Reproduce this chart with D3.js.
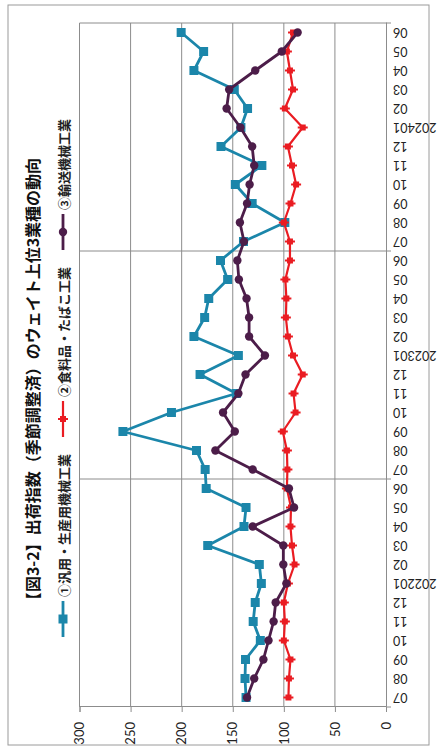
<!DOCTYPE html>
<html><head><meta charset="utf-8">
<script src="https://cdn.jsdelivr.net/npm/d3@7"></script>
<style>html,body{margin:0;padding:0;background:#fff;}svg{display:block;}</style>
</head><body>
<svg id="c" width="437" height="748"></svg>
<script>
const categories = ["07","08","09","10","11","12","202201","02","03","04","05","06",
  "07","08","09","10","11","12","202301","02","03","04","05","06",
  "07","08","09","10","11","12","202401","02","03","04","05","06"];
const seriesNames = ["①汎用・生産用機械工業","②食料品・たばこ工業","③輸送機械工業"];
const machinery = [137,138,137.5,123,130,128,122,124,174.5,139,137,176,
  177,185.5,257.5,210,146.5,182,144.5,188,177.5,173.5,155,162,
  139.5,99,131,147.5,121.5,161.5,142,135.5,148.5,188,178.5,200.5];
const food = [95.5,95,93.5,100,99,100,96,89.5,92,93.5,93,97,
  96.5,97,101,88.5,90.5,81.5,91,96,98,97.5,98.5,94,
  94,100,93.5,88,92,96,81.5,99,91,94,97,91];
const transport = [136,129,120,115,110,108,97.5,100.5,100.5,130.5,90,95,
  130.5,167,148,159.5,144.5,137.5,118.5,134,134,136.5,144,145.5,
  139,143,136,133.5,129,131,142.5,156,153.5,128,102,86.5];
const valueTicks = [0,50,100,150,200,250,300];
const titleText = "【図3-2】出荷指数（季節調整済）のウェイト上位3業種の動向";

const colors = ["#1b86aa","#ea1c22","#4c1d49"];

const svg = d3.select("#c");
// Chart is drawn in its own frame (748 wide x 437 high) and turned a quarter turn.
const g = svg.append("g").attr("transform","translate(0,748) rotate(-90)");

g.append("rect").attr("x",3).attr("y",8).attr("width",740).attr("height",421)
  .attr("fill","#fff").attr("stroke","#9a9a9a").attr("stroke-width",1);

const idx = d3.range(categories.length);
const x = d3.scaleBand().domain(idx).range([41,725]).padding(0);
const y = d3.scaleLinear().domain([0,300]).range([386,79.5]);
const cx = i => x(i) + x.bandwidth()/2;

// value gridlines
g.append("g").selectAll("line").data(valueTicks.filter(v=>v>0)).join("line")
  .attr("x1",41).attr("x2",725).attr("y1",d=>y(d)).attr("y2",d=>y(d))
  .attr("stroke","#8c8c8c").attr("stroke-width",1);
// category gridlines every 12 months
const yearBounds = [12,24,36];
g.append("g").selectAll("line").data(yearBounds).join("line")
  .attr("x1",d=>41+d*x.bandwidth()).attr("x2",d=>41+d*x.bandwidth())
  .attr("y1",y(300)).attr("y2",y(0))
  .attr("stroke","#8c8c8c").attr("stroke-width",1);

// value axis
const yAxis = d3.axisLeft(y).tickValues(valueTicks).tickSize(5).tickPadding(10);
const ya = g.append("g").attr("transform","translate(41,0)").call(yAxis);
ya.select(".domain").attr("stroke","#8c8c8c");
ya.selectAll(".tick line").attr("stroke","#8c8c8c");
ya.selectAll("text").attr("font-family","Lato, 'Liberation Sans', sans-serif")
  .attr("font-size",13).attr("fill","#222");

// category axis
const xAxis = d3.axisBottom(x).tickSize(0).tickPadding(0).tickFormat(i=>categories[i]);
const xa = g.append("g").attr("transform","translate(0,386)").call(xAxis);
xa.select(".domain").attr("stroke","#8c8c8c");
xa.selectAll("text").attr("font-family","Lato, 'Liberation Sans', sans-serif")
  .attr("font-size",12.5).attr("fill","#222")
  .attr("text-anchor","end").attr("dy",null).attr("y",null)
  .attr("dominant-baseline","central")
  .attr("transform","translate(0,7) rotate(-90)");
g.append("g").selectAll("line").data([0,12,24,36]).join("line")
  .attr("x1",d=>41+d*x.bandwidth()).attr("x2",d=>41+d*x.bandwidth())
  .attr("y1",386).attr("y2",391).attr("stroke","#8c8c8c");

const data = [machinery, food, transport];
const line = d3.line().x((d,i)=>cx(i)).y(d=>y(d));
const widths = [2.8,2.2,2.8];
[0,1,2].forEach(k=>{
  g.append("path").datum(data[k]).attr("d",line).attr("fill","none")
    .attr("stroke",colors[k]).attr("stroke-width",widths[k]).attr("stroke-linejoin","round");
  const m = g.append("g").selectAll("g").data(data[k]).join("g")
    .attr("transform",(d,i)=>`translate(${cx(i)},${y(d)})`);
  drawMarker(m,k);
});

function drawMarker(sel,k){
  if(k===0){
    sel.append("rect").attr("x",-4.5).attr("y",-4.5).attr("width",9).attr("height",9).attr("fill",colors[0]);
  } else if(k===1){
    sel.append("rect").attr("x",-3).attr("y",-3).attr("width",6).attr("height",6).attr("fill",colors[1]);
    sel.append("line").attr("x1",0).attr("x2",0).attr("y1",-5).attr("y2",5).attr("stroke",colors[1]).attr("stroke-width",2);
  } else {
    sel.append("circle").attr("r",4.2).attr("fill",colors[2]);
  }
}

// title
g.append("text").attr("x",365).attr("y",39).attr("text-anchor","middle")
  .attr("font-family","'Noto Sans CJK JP', sans-serif").attr("font-weight","bold")
  .attr("font-size",16).attr("fill","#111").text(titleText);

// legend
const legendX = [111,311,498];
const lg = g.append("g").selectAll("g").data(seriesNames).join("g")
  .attr("transform",(d,i)=>`translate(${legendX[i]},63)`);
lg.append("line").attr("x1",0).attr("x2",36).attr("y1",0).attr("y2",0)
  .attr("stroke",(d,i)=>colors[i]).attr("stroke-width",(d,i)=>widths[i]);
lg.each(function(d,i){
  const m = d3.select(this).append("g").attr("transform","translate(18,0)");
  drawMarker(m,i);
});
lg.append("text").attr("x",40).attr("y",0).attr("dominant-baseline","central")
  .attr("font-family","'Noto Sans CJK JP', sans-serif").attr("font-weight","bold")
  .attr("font-size",13).attr("fill","#222").text(d=>d);
</script>
</body></html>
